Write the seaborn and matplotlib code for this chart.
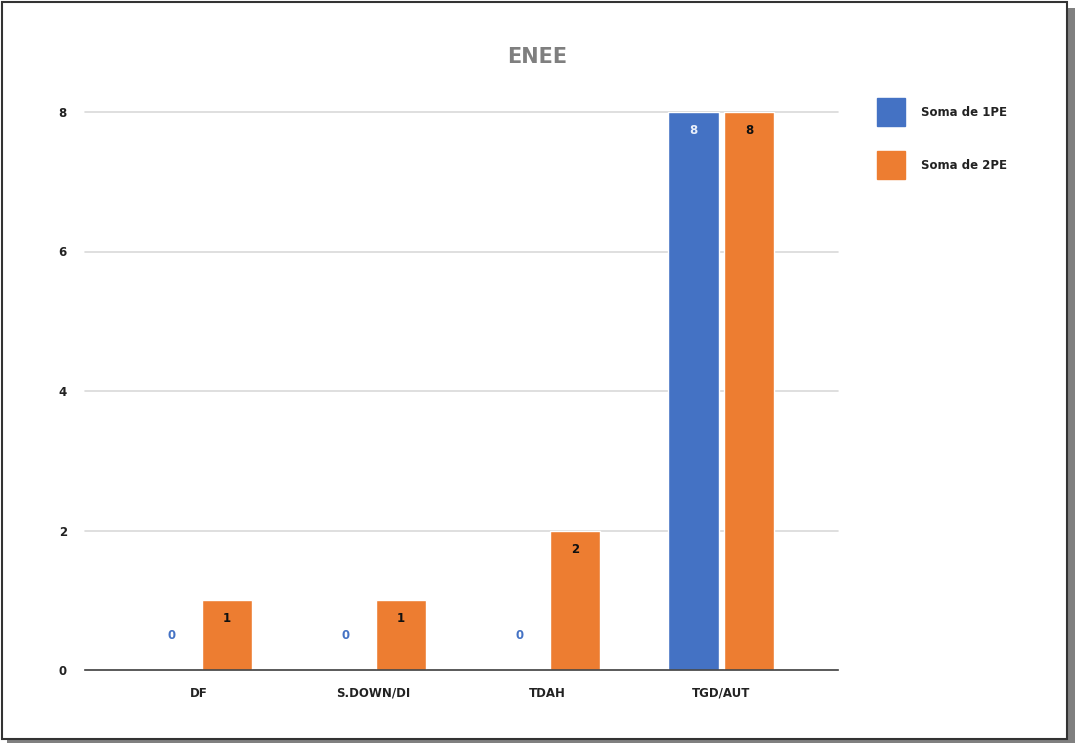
import matplotlib
matplotlib.use("Agg")
import matplotlib.pyplot as plt
from matplotlib.patches import Rectangle
from matplotlib.lines import Line2D
import seaborn as sns
import pandas as pd

categories = ["DF", "S.DOWN/DI", "TDAH", "TGD/AUT"]
soma_1pe = [0, 0, 0, 8]
soma_2pe = [1, 1, 2, 8]
series_names = ["Soma de 1PE", "Soma de 2PE"]
yticks = [0, 2, 4, 6, 8]
title = "ENEE"

BLUE = "#4472C4"
ORANGE = "#ED7D31"

df = pd.DataFrame({
    "cat": categories * 2,
    "serie": [series_names[0]] * len(categories) + [series_names[1]] * len(categories),
    "valor": soma_1pe + soma_2pe,
})

sns.set_theme(style="white")
plt.rcParams["font.family"] = ["DejaVu Sans"]

W, H = 1075, 743
fig = plt.figure(figsize=(W / 100, H / 100), dpi=100)

# page frame with drop shadow
fig.patches.append(Rectangle((7 / W, 0), (W - 7) / W, (H - 8) / H, transform=fig.transFigure,
                             facecolor="#808080", edgecolor="none", zorder=0))
fig.patches.append(Rectangle((2 / W, 4 / H), (1067 - 2) / W, (H - 6) / H, transform=fig.transFigure,
                             facecolor="white", edgecolor="#333333", linewidth=1.5, zorder=1))

ax = fig.add_axes([85 / W, 1 - 670 / H, (838 - 85) / W, (670 - 112) / H])
ax.set_facecolor("none")
ax.set_zorder(2)

sns.barplot(data=df, x="cat", y="valor", hue="serie", order=categories,
            hue_order=series_names, palette=[BLUE, ORANGE], width=0.64, gap=0.1,
            ax=ax, legend=False, saturation=1)

ax.set_xlim(-0.655, 3.67)
ax.set_ylim(0, 8)
ax.set_yticks(yticks)
ax.set_xlabel("")
ax.set_ylabel("")
ax.yaxis.grid(True, color="#d9d9d9", linewidth=1.2, clip_on=False)
ax.set_axisbelow(True)
for side in ["left", "right", "top"]:
    ax.spines[side].set_visible(False)
ax.spines["bottom"].set_color("#444444")
ax.spines["bottom"].set_linewidth(1.2)
ax.tick_params(axis="both", length=0, labelsize=8.5, labelcolor="#222222")
ax.tick_params(axis="y", pad=13)
ax.tick_params(axis="x", pad=12)
for lbl in ax.get_xticklabels() + ax.get_yticklabels():
    lbl.set_fontweight("bold")

# value labels
for container, color_in, values in zip(ax.containers, ["#e8eefa", "#111111"], [soma_1pe, soma_2pe]):
    for bar, v in zip(container, values):
        cx = bar.get_x() + bar.get_width() / 2
        if v == 0:
            ax.annotate(str(v), (cx, 0), xytext=(0, 25), textcoords="offset points",
                        ha="center", va="center", fontsize=8.5, fontweight="bold", color=BLUE)
        else:
            ax.annotate(str(v), (cx, v), xytext=(0, -13.5), textcoords="offset points",
                        ha="center", va="center", fontsize=8.5, fontweight="bold", color=color_in)

fig.text(537 / W, 1 - 57 / H, title, ha="center", va="center", fontsize=15,
         fontweight="bold", color="#7f7f7f")

handles = [Line2D([], [], marker="s", linestyle="none", markersize=19.5,
                  markerfacecolor=c, markeredgecolor=c) for c in [BLUE, ORANGE]]
leg = fig.legend(handles, series_names, loc="upper left", bbox_to_anchor=(874 / W, 1 - 101 / H),
                 frameon=False, fontsize=8.5, labelspacing=3.4, handletextpad=1.6,
                 borderaxespad=0)
for t in leg.get_texts():
    t.set_color("#222222")
    t.set_fontweight("bold")

fig.savefig("out.png", dpi=100)
